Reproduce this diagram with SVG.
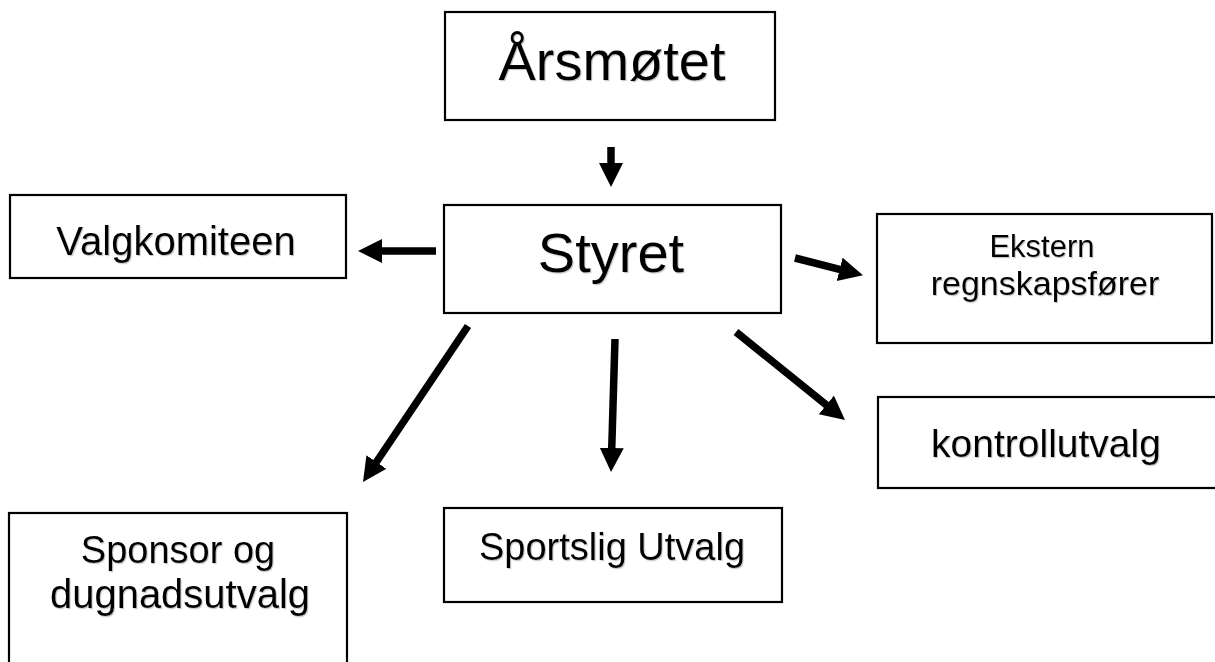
<svg xmlns="http://www.w3.org/2000/svg" width="1215" height="662" viewBox="0 0 1215 662">
<defs>
<filter id="sh" x="-10%" y="-20%" width="120%" height="150%">
<feDropShadow dx="1" dy="1.2" stdDeviation="0.6" flood-color="#888" flood-opacity="0.45"/>
</filter>
<marker id="ah" markerUnits="userSpaceOnUse" markerWidth="26" markerHeight="26" refX="12" refY="12" orient="auto">
<path d="M0,0 L24,12 L0,24 z" fill="#000"/>
</marker>
<style>
.box{fill:#fff;stroke:#000;stroke-width:2.2}
.t{font-family:"Liberation Sans",Arial,sans-serif;fill:#000;text-anchor:middle;filter:url(#sh)}
.conn{stroke:#000;stroke-width:7.5;fill:none;marker-end:url(#ah)}
</style>
</defs>
<rect width="1215" height="662" fill="#fff"/>
<g id="connectors">
<line class="conn" x1="611" y1="147" x2="611" y2="175"/>
<line class="conn" x1="436" y1="251" x2="370" y2="251"/>
<line class="conn" x1="795" y1="258" x2="851.3" y2="272.3"/>
<line class="conn" x1="468" y1="326" x2="369.7" y2="472"/>
<line class="conn" x1="615" y1="339" x2="611.4" y2="460"/>
<line class="conn" x1="736" y1="332" x2="835.7" y2="412.5"/>
</g>
<g id="arsmotet">
<rect class="box" x="445" y="12" width="330" height="108"/>
<text class="t" x="612" y="80" font-size="56">Årsmøtet</text>
</g>
<g id="styret">
<rect class="box" x="444" y="205" width="337" height="108"/>
<text class="t" x="611" y="272" font-size="56">Styret</text>
</g>
<g id="valgkomiteen">
<rect class="box" x="10" y="195" width="336" height="83"/>
<text class="t" x="176" y="255" font-size="40">Valgkomiteen</text>
</g>
<g id="ekstern">
<rect class="box" x="877" y="214" width="335" height="129"/>
<text class="t" x="1042" y="257" font-size="31">Ekstern</text>
<text class="t" x="1045" y="295" font-size="34">regnskapsfører</text>
</g>
<g id="kontrollutvalg">
<rect class="box" x="878" y="397" width="345" height="91"/>
<text class="t" x="1046" y="457" font-size="39">kontrollutvalg</text>
</g>
<g id="sponsor">
<rect class="box" x="9" y="513" width="338" height="160"/>
<text class="t" x="178" y="563" font-size="38">Sponsor og</text>
<text class="t" x="180" y="608" font-size="40">dugnadsutvalg</text>
</g>
<g id="sportslig">
<rect class="box" x="444" y="508" width="338" height="94"/>
<text class="t" x="612" y="560" font-size="38">Sportslig Utvalg</text>
</g>
</svg>
